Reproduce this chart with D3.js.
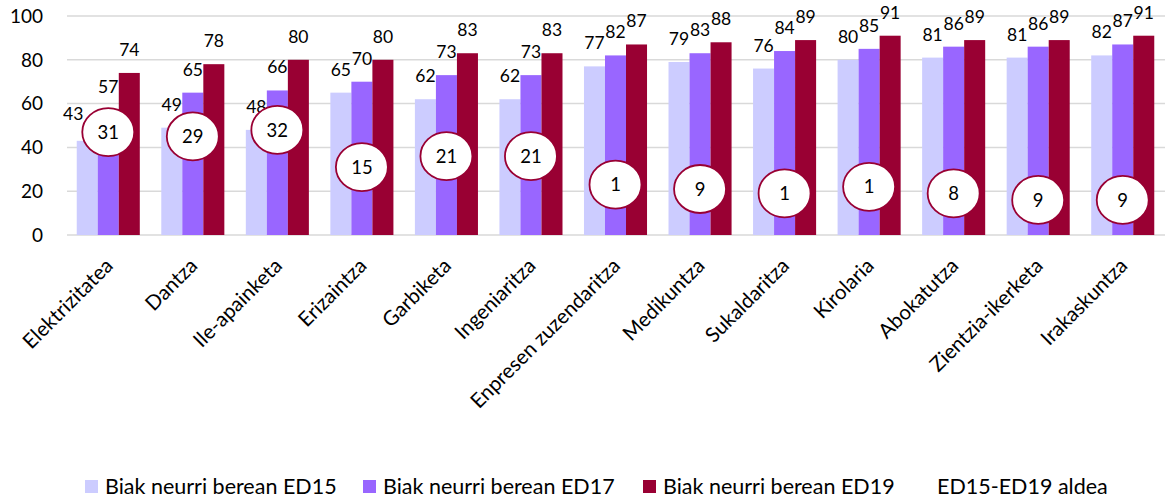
<!DOCTYPE html>
<html>
<head>
<meta charset="utf-8">
<script src="https://cdnjs.cloudflare.com/ajax/libs/d3/7.8.5/d3.min.js"></script>
<style>
	body { margin: 0; background: #fff; }
	text { font-family: Lato, 'Open Sans', sans-serif; fill: #000; }
</style>
</head>
<body>
<div id="vis"></div>
<script>
var categories = ['Elektrizitatea', 'Dantza', 'Ile-apainketa', 'Erizaintza', 'Garbiketa', 'Ingeniaritza',
	'Enpresen zuzendaritza', 'Medikuntza', 'Sukaldaritza', 'Kirolaria', 'Abokatutza', 'Zientzia-ikerketa', 'Irakaskuntza'];
var seriesNames = ['Biak neurri berean ED15', 'Biak neurri berean ED17', 'Biak neurri berean ED19'];
var ed15 = [43, 49, 48, 65, 62, 62, 77, 79, 76, 80, 81, 81, 82];
var ed17 = [57, 65, 66, 70, 73, 73, 82, 83, 84, 85, 86, 86, 87];
var ed19 = [74, 78, 80, 80, 83, 83, 87, 88, 89, 91, 89, 89, 91];
// ED15-ED19 aldea, as the labels show it, and the value height each callout sits at
var diffLabels = ['31', '29', '32', '15', '21', '21', '1', '9', '1', '1', '8', '9', '9'];
var diffAt = [47, 45, 48, 31, 36, 36, 23, 21, 19, 22, 19, 16, 16];
var yTicks = [0, 20, 40, 60, 80, 100];
var diffName = 'ED15-ED19 aldea';

var width = 1167,
	height = 500;

var margin = { left: 66, right: 2, top: 16, bottom: 265 };

var colors = ['#ccccff', '#9966ff', '#990033'];

var svg = d3.select('#vis')
	.append('svg')
	.attr('width', width)
	.attr('height', height);

var x0 = d3.scaleBand()
	.domain(categories)
	.range([margin.left, width - margin.right])
	.paddingInner(0.254)
	.paddingOuter(0.127);

var x1 = d3.scaleBand()
	.domain(d3.range(3))
	.range([0, x0.bandwidth()]);

var y = d3.scaleLinear()
	.domain([0, 100])
	.range([height - margin.bottom, margin.top]);

var series = [ed15, ed17, ed19];

// gridlines
svg.append('g')
	.selectAll('line')
	.data(yTicks)
	.enter().append('line')
	.attr('x1', margin.left + 1)
	.attr('x2', width - margin.right)
	.attr('y1', function(d) { return y(d); })
	.attr('y2', function(d) { return y(d); })
	.attr('stroke', '#d9d9d9')
	.attr('stroke-width', 1.5);

// y tick labels
svg.append('g')
	.selectAll('text')
	.data(yTicks)
	.enter().append('text')
	.attr('x', 43)
	.attr('y', function(d) { return y(d); })
	.attr('dy', '0.36em')
	.attr('text-anchor', 'end')
	.attr('font-size', 19)
	.text(function(d) { return d; });

// bars
var groups = svg.append('g')
	.selectAll('g')
	.data(categories)
	.enter().append('g')
	.attr('transform', function(d) { return 'translate(' + x0(d) + ',0)'; });

groups.selectAll('rect')
	.data(function(d, i) { return series.map(function(s, k) { return { k: k, v: s[i] }; }); })
	.enter().append('rect')
	.attr('x', function(d) { return x1(d.k); })
	.attr('width', x1.bandwidth())
	.attr('y', function(d) { return y(d.v); })
	.attr('height', function(d) { return y(0) - y(d.v); })
	.attr('fill', function(d) { return colors[d.k]; });

groups.selectAll('text')
	.data(function(d, i) { return series.map(function(s, k) { return { k: k, v: s[i], c: d }; }); })
	.enter().append('text')
	.attr('x', function(d) {
		var nudge = (d.c == 'Elektrizitatea' && d.k == 0) ? -14 : 0;
		return x1(d.k) + x1.bandwidth() / 2 + nudge;
	})
	.attr('y', function(d) {
		var nudge = (d.c == 'Elektrizitatea' && d.k == 0) ? -4 : 0;
		return y(d.v) - 17 + nudge;
	})
	.attr('text-anchor', 'middle')
	.attr('font-size', 17.5)
	.text(function(d) { return d.v; });

// difference callouts
var callouts = svg.append('g')
	.selectAll('g')
	.data(categories)
	.enter().append('g')
	.attr('transform', function(d, i) {
		return 'translate(' + (x0(d) + x0.bandwidth() / 2) + ',' + y(diffAt[i]) + ')';
	});

callouts.append('ellipse')
	.attr('rx', 26)
	.attr('ry', 24)
	.attr('fill', '#fff')
	.attr('stroke', '#990033')
	.attr('stroke-width', 1.8);

callouts.append('text')
	.attr('text-anchor', 'middle')
	.attr('dy', '0.36em')
	.attr('font-size', 18.5)
	.text(function(d, i) { return diffLabels[i]; });

// category labels
svg.append('g')
	.selectAll('text')
	.data(categories)
	.enter().append('text')
	.attr('transform', function(d) {
		return 'translate(' + (x0(d) + x0.bandwidth() / 2 + 6) + ',' + 267 + ') rotate(-45)';
	})
	.attr('text-anchor', 'end')
	.attr('font-size', 20.5)
	.text(function(d) { return d; });

// legend
var legendX = [85, 363, 643, 917];
var legendItems = seriesNames.concat([diffName]);

var legend = svg.append('g')
	.selectAll('g')
	.data(legendItems)
	.enter().append('g')
	.attr('transform', function(d, i) { return 'translate(' + legendX[i] + ',480)'; });

legend.filter(function(d, i) { return i < 3; })
	.append('rect')
	.attr('width', 13)
	.attr('height', 13)
	.attr('fill', function(d, i) { return colors[i]; });

legend.append('text')
	.attr('x', 20)
	.attr('y', 13.5)
	.attr('font-size', 21.5)
	.text(function(d) { return d; });
</script>
</body>
</html>
